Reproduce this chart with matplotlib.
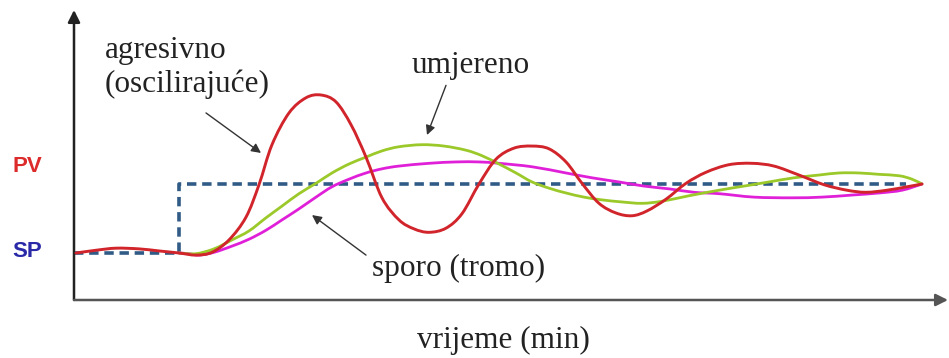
import matplotlib as mpl
mpl.use('Agg')
import matplotlib.pyplot as plt
from matplotlib.path import Path
from matplotlib.patches import PathPatch
import numpy as np

# time in min, PV normalised so that SP step goes 0 -> 1
sp_t = [0, 10.5, 10.5, 83.2]
sp_v = [0, 0, 1, 1]

agr_t = [0.2, 2.2, 4.2, 6.5, 8.5, 10.5, 12.2, 13.8, 15.5, 17.2, 18.5, 19.8, 21.5, 23.2,
         24.7, 26.2, 27.7, 29.2, 30.8, 32.5, 34.0, 35.5, 37.2, 38.8, 40.5, 42.2, 44.0,
         45.8, 47.5, 49.2, 50.8, 52.5, 54.2, 55.8, 57.3, 59.2, 61.2, 63.2, 65.5, 67.8,
         70.0, 72.5, 75.0, 77.3, 79.2, 81.3, 83.3, 84.8]
agr_v = [0.00, 0.04, 0.07, 0.06, 0.03, 0.00, -0.03, 0.01, 0.19, 0.52, 0.99, 1.57, 2.03, 2.25,
         2.29, 2.19, 1.86, 1.39, 0.80, 0.48, 0.35, 0.30, 0.36, 0.57, 1.00, 1.36, 1.52,
         1.55, 1.51, 1.32, 1.01, 0.72, 0.58, 0.54, 0.61, 0.78, 1.01, 1.17, 1.28, 1.30,
         1.26, 1.13, 0.99, 0.91, 0.88, 0.91, 0.96, 1.00]

umj_t = [10.5, 12.2, 14.0, 15.8, 17.5, 19.2, 20.8, 22.5, 24.2, 25.8, 27.5, 29.2, 30.8,
         32.5, 34.8, 37.0, 39.2, 40.8, 42.5, 44.2, 45.8, 47.5, 49.2, 51.0, 52.8, 54.8,
         56.8, 58.8, 61.5, 64.5, 67.0, 69.5, 72.0, 74.5, 76.5, 78.5, 80.5, 82.5, 83.8, 84.8]
umj_v = [0.00, -0.01, 0.06, 0.19, 0.32, 0.51, 0.68, 0.86, 1.01, 1.16, 1.29, 1.39, 1.48,
         1.54, 1.57, 1.55, 1.49, 1.41, 1.29, 1.16, 1.03, 0.94, 0.87, 0.81, 0.77, 0.74,
         0.72, 0.75, 0.83, 0.91, 0.97, 1.03, 1.09, 1.13, 1.16, 1.16, 1.14, 1.12, 1.07, 1.00]

spo_t = [10.5, 11.5, 12.5, 14.0, 15.8, 17.5, 19.2, 20.8, 22.5, 24.2, 25.8, 27.5, 29.2,
         30.8, 32.5, 35.5, 38.2, 40.5, 42.5, 45.8, 49.2, 51.8, 54.5, 57.0, 59.5, 62.0,
         64.5, 68.0, 71.8, 74.8, 77.8, 80.5, 82.8, 84.8]
spo_v = [0.00, -0.01, -0.03, 0.01, 0.10, 0.20, 0.33, 0.48, 0.64, 0.81, 0.96, 1.07, 1.16,
         1.22, 1.26, 1.30, 1.32, 1.32, 1.30, 1.25, 1.16, 1.09, 1.03, 0.97, 0.93, 0.88,
         0.86, 0.81, 0.80, 0.81, 0.84, 0.87, 0.91, 1.00]


def smooth_path(t, v):
    # Catmull-Rom through the read points, drawn as cubic Bezier segments
    p = np.column_stack([t, v]).astype(float)
    p = np.vstack([p[0], p, p[-1]])
    verts = [p[1]]
    codes = [Path.MOVETO]
    for i in range(1, len(p) - 2):
        c1 = p[i] + (p[i + 1] - p[i - 1]) / 6
        c2 = p[i + 1] - (p[i + 2] - p[i]) / 6
        verts += [c1, c2, p[i + 1]]
        codes += [Path.CURVE4] * 3
    return Path(verts, codes)


W, H = 949, 358
fig = plt.figure(figsize=(W / 100, H / 100), dpi=100)
ax = fig.add_axes([74 / W, (H - 300) / H, (948 - 74) / W, (300 - 10) / H])
ax.set_xlim(0, 87.4)
ax.set_ylim(-0.681, 3.522)
ax.axis('off')

for t, v, c, lw, z in [(spo_t, spo_v, '#e020d8', 2.0, 3),
                       (umj_t, umj_v, '#9cc92a', 2.0, 3),
                       (agr_t, agr_v, '#d1242b', 2.1, 4)]:
    ax.add_patch(PathPatch(smooth_path(t, v), fill=False, edgecolor=c, lw=lw,
                           capstyle='round', joinstyle='round', zorder=z))
ax.plot(sp_t, sp_v, color='#2f5b86', lw=2.6, ls=(0, (2.6, 1.6)), zorder=2)

# axes with arrowheads
ax.annotate('', xy=(0, 1), xytext=(0, 0), xycoords='axes fraction',
            arrowprops=dict(arrowstyle='-|>', color='#222222', lw=1.8, mutation_scale=18,
                            shrinkA=0, shrinkB=0))
ax.annotate('', xy=(1, 0), xytext=(0, 0), xycoords='axes fraction',
            arrowprops=dict(arrowstyle='-|>', color='#555555', lw=1.8, mutation_scale=18,
                            shrinkA=0, shrinkB=0))

serif = 'Liberation Serif'
txt = dict(family=serif, fontsize=22.5, color='#222222', va='baseline')
fig.text(105 / W, 1 - 58 / H, 'agresivno', **txt)
fig.text(105 / W, 1 - 92 / H, '(oscilirajuće)', **txt)
fig.text(412 / W, 1 - 73 / H, 'umjereno', **txt)
fig.text(372 / W, 1 - 276 / H, 'sporo (tromo)', **txt)
fig.text(417 / W, 1 - 348 / H, 'vrijeme (min)', **txt)

fig.text(12 / W, 1 - 172 / H, 'PV', family='Liberation Sans', fontweight='bold', fontsize=16,
         color='#dd2a2a', va='baseline')
fig.text(12 / W, 1 - 257 / H, 'SP', family='Liberation Sans', fontweight='bold', fontsize=16,
         color='#2a2aa8', va='baseline')

arrow = dict(arrowstyle='-|>', color='#333333', lw=1.0, mutation_scale=14, shrinkA=0, shrinkB=0)
ax.annotate('', xy=(18.7, 1.45), xytext=(13.2, 2.03), arrowprops=arrow)
ax.annotate('', xy=(35.3, 1.71), xytext=(37.2, 2.43), arrowprops=arrow)
ax.annotate('', xy=(23.8, 0.55), xytext=(29.2, -0.03), arrowprops=arrow)

fig.savefig('out.png', dpi=100)
